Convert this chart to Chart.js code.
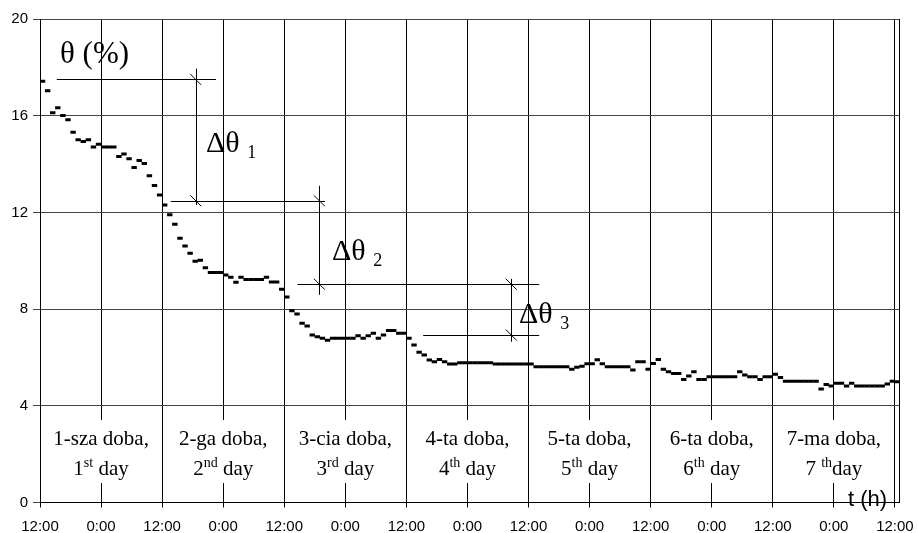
<!DOCTYPE html>
<html>
<head>
<meta charset="utf-8">
<script src="https://cdn.jsdelivr.net/npm/chart.js@4"></script>
<style>
  body { margin: 0; background: #fff; }
  #wrap { width: 918px; height: 533px; }
</style>
</head>
<body>
<div id="wrap"><canvas id="chart" width="918" height="533"></canvas></div>
<script>
// Hourly readings of moisture θ (%), first reading half an hour after start (12:00)
const theta = [
  17.42, 17.03, 16.12, 16.33, 16.01, 15.83, 15.32, 15.01, 14.93, 15.01,
  14.71, 14.82, 14.71, 14.71, 14.71, 14.31, 14.42, 14.22, 13.86, 14.15,
  14.02, 13.52, 13.11, 12.72, 12.31, 11.90, 11.51, 10.93, 10.61, 10.31,
  9.98, 10.02, 9.71, 9.51, 9.51, 9.51, 9.41, 9.32, 9.11, 9.32,
  9.22, 9.22, 9.22, 9.22, 9.32, 9.12, 9.12, 8.82, 8.50, 7.93,
  7.80, 7.41, 7.30, 6.93, 6.86, 6.79, 6.71, 6.79, 6.79, 6.79,
  6.79, 6.79, 6.90, 6.79, 6.90, 7.00, 6.79, 6.93, 7.11, 7.11,
  7.00, 7.00, 6.79, 6.51, 6.21, 6.10, 5.89, 5.82, 5.92, 5.82,
  5.73, 5.73, 5.78, 5.78, 5.78, 5.78, 5.78, 5.78, 5.78, 5.73,
  5.73, 5.73, 5.73, 5.73, 5.73, 5.73, 5.73, 5.62, 5.62, 5.62,
  5.62, 5.62, 5.62, 5.62, 5.51, 5.59, 5.64, 5.74, 5.74, 5.90,
  5.74, 5.62, 5.62, 5.62, 5.62, 5.62, 5.48, 5.82, 5.82, 5.51,
  5.75, 5.92, 5.51, 5.41, 5.34, 5.34, 5.09, 5.23, 5.41, 5.09,
  5.09, 5.20, 5.20, 5.20, 5.20, 5.20, 5.20, 5.41, 5.27, 5.20,
  5.20, 5.09, 5.20, 5.20, 5.31, 5.17, 5.02, 5.02, 5.02, 5.02,
  5.02, 5.02, 5.02, 4.69, 4.88, 4.82, 4.93, 4.93, 4.82, 4.93,
  4.82, 4.82, 4.82, 4.82, 4.82, 4.82, 4.90, 5.02, 5.00
];
const firstHour = 0.5;

// x axis: a tick every 12 h, starting at 12:00
const tickHours = [0, 12, 24, 36, 48, 60, 72, 84, 96, 108, 120, 132, 144, 156, 168];
const tickLabels = ['12:00', '0:00', '12:00', '0:00', '12:00', '0:00', '12:00', '0:00',
                    '12:00', '0:00', '12:00', '0:00', '12:00', '0:00', '12:00'];
const yTicks = [0, 4, 8, 12, 16, 20];

// day captions, centred on each midnight
const dayHours = [12, 36, 60, 84, 108, 132, 156];
const dayPl = ['1-sza doba,', '2-ga doba,', '3-cia doba,', '4-ta doba,', '5-ta doba,', '6-ta doba,', '7-ma doba,'];
const dayEn = [
  ['1', 'st', ' day'], ['2', 'nd', ' day'], ['3', 'rd', ' day'], ['4', 'th', ' day'],
  ['5', 'th', ' day'], ['6', 'th', ' day'], ['7 ', 'th', 'day']
];

// Δθ construction lines: [θ, from h, to h] and [h, θ top, θ bottom]
const levelLines = [[17.5, 3.3, 34.6], [12.48, 25.7, 56.0], [9.03, 50.6, 98.1], [6.93, 75.3, 98.1]];
const deltaLines = [[30.6, 17.95, 12.31], [54.9, 13.1, 8.59], [92.6, 9.25, 6.65]];
const slashes = [[30.6, 17.5], [30.6, 12.48], [54.9, 12.48], [54.9, 9.03], [92.6, 9.03], [92.6, 6.93]];

const points = theta.map((v, i) => ({ x: firstHour + i, y: v }));

const serif = "'Liberation Serif', 'Times New Roman', serif";
const sans = "'Liberation Sans', Arial, sans-serif";

const extras = {
  id: 'extras',
  afterDraw(chart) {
    const { ctx, chartArea: a, scales: { x, y } } = chart;
    ctx.save();
    ctx.strokeStyle = '#000';
    ctx.lineWidth = 1;

    // right frame
    ctx.beginPath();
    ctx.moveTo(Math.round(a.right) + 0.5, a.top);
    ctx.lineTo(Math.round(a.right) + 0.5, a.bottom);
    ctx.stroke();

    // day captions with white boxes cutting the midnight lines
    ctx.fillStyle = '#000';
    ctx.textBaseline = 'alphabetic';
    dayHours.forEach((h, i) => {
      const cx = x.getPixelForValue(h);
      ctx.font = '21px ' + serif;
      const w1 = ctx.measureText(dayPl[i]).width;
      const [n, sup, rest] = dayEn[i];
      const wn = ctx.measureText(n).width;
      const wr = ctx.measureText(rest).width;
      ctx.font = '14px ' + serif;
      const ws = ctx.measureText(sup).width;
      const w2 = wn + ws + wr;
      const bw = Math.max(w1, w2) + 6;
      ctx.fillStyle = '#fff';
      ctx.fillRect(cx - bw / 2, 420, bw, 63);
      ctx.fillStyle = '#000';
      ctx.font = '21px ' + serif;
      ctx.textAlign = 'center';
      ctx.fillText(dayPl[i], cx, 445);
      ctx.textAlign = 'left';
      let lx = cx - w2 / 2;
      ctx.fillText(n, lx, 475);
      lx += wn;
      ctx.font = '14px ' + serif;
      ctx.fillText(sup, lx, 467);
      lx += ws;
      ctx.font = '21px ' + serif;
      ctx.fillText(rest, lx, 475);
    });

    // construction lines
    ctx.beginPath();
    levelLines.forEach(([v, h0, h1]) => {
      const py = Math.round(y.getPixelForValue(v)) + 0.5;
      ctx.moveTo(x.getPixelForValue(h0), py);
      ctx.lineTo(x.getPixelForValue(h1), py);
    });
    deltaLines.forEach(([h, v0, v1]) => {
      const px = Math.round(x.getPixelForValue(h)) + 0.5;
      ctx.moveTo(px, y.getPixelForValue(v0));
      ctx.lineTo(px, y.getPixelForValue(v1));
    });
    slashes.forEach(([h, v]) => {
      const px = x.getPixelForValue(h), py = y.getPixelForValue(v);
      ctx.moveTo(px - 5.5, py - 5.5);
      ctx.lineTo(px + 5.5, py + 5.5);
    });
    ctx.stroke();

    // labels
    ctx.textAlign = 'left';
    ctx.font = '31px ' + serif;
    ctx.fillText('θ (%)', 60, 63);
    [[206, 152, '1'], [332, 260, '2'], [519, 323, '3']].forEach(([lx, by, s]) => {
      ctx.font = '30px ' + serif;
      ctx.fillText('Δθ', lx, by);
      const w = ctx.measureText('Δθ ').width;
      ctx.font = '18px ' + serif;
      ctx.fillText(s, lx + w, by + 6);
    });
    ctx.font = '22px ' + sans;
    ctx.fillText('t (h)', 848, 506);
    ctx.restore();
  }
};

new Chart(document.getElementById('chart'), {
  type: 'scatter',
  data: {
    datasets: [{
      data: points,
      showLine: false,
      pointStyle: 'line',
      pointRadius: 2.7,
      pointHoverRadius: 2.7,
      borderColor: '#000',
      backgroundColor: '#000',
      pointBorderWidth: 3
    }]
  },
  options: {
    responsive: false,
    animation: false,
    layout: { padding: { left: 0, top: 19, right: 19, bottom: 0 } },
    plugins: { legend: { display: false }, tooltip: { enabled: false } },
    scales: {
      x: {
        type: 'linear',
        min: 0,
        max: 168.8,
        afterBuildTicks: (s) => { s.ticks = tickHours.map((v) => ({ value: v })); },
        afterFit: (s) => { s.height = 30.5; s.paddingLeft = 0; s.paddingRight = 0; },
        ticks: {
          autoSkip: false,
          maxRotation: 0,
          padding: 10,
          color: '#000',
          font: { family: sans, size: 15 },
          callback: (v) => tickLabels[tickHours.indexOf(v)]
        },
        grid: { color: '#000', lineWidth: 1, tickLength: 5 },
        border: { color: '#000', width: 1 }
      },
      y: {
        min: 0,
        max: 20,
        afterBuildTicks: (s) => { s.ticks = yTicks.map((v) => ({ value: v })); },
        afterFit: (s) => { s.width = 40; },
        ticks: {
          padding: 5,
          color: '#000',
          font: { family: sans, size: 15 }
        },
        grid: { color: '#444', lineWidth: 1, tickLength: 7 },
        border: { color: '#000', width: 1 }
      }
    }
  },
  plugins: [extras]
});
</script>
</body>
</html>
